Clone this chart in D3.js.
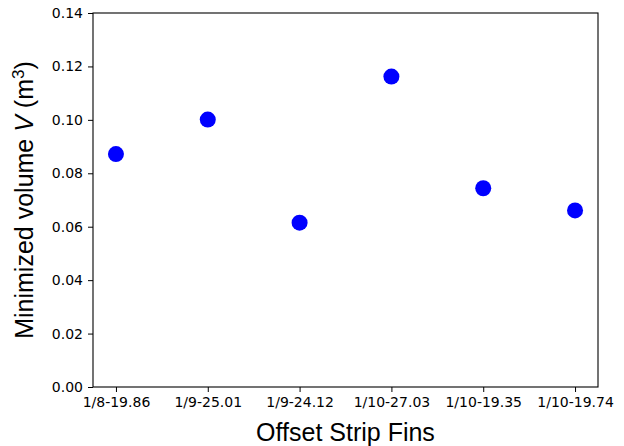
<!DOCTYPE html>
<html>
<head>
<meta charset="utf-8">
<script src="https://cdn.jsdelivr.net/npm/d3@7/dist/d3.min.js"></script>
<style>
  html, body { margin: 0; padding: 0; background: #fff; }
  svg { display: block; }
</style>
</head>
<body>
<svg id="chart" width="624" height="446"></svg>
<script>
// Fin geometries (category labels) and their minimized volumes
const categories = ["1/8-19.86", "1/9-25.01", "1/9-24.12", "1/10-27.03", "1/10-19.35", "1/10-19.74"];
const volumes = [0.0872, 0.1001, 0.0615, 0.1162, 0.0744, 0.0661];
const yTicks = [0.00, 0.02, 0.04, 0.06, 0.08, 0.10, 0.12, 0.14];

const svg = d3.select("#chart");
const plot = { left: 93, right: 598, top: 13, bottom: 387 };

// Categorical positions with a small margin on both ends
const x = d3.scaleLinear().domain([-0.25, categories.length - 0.75]).range([plot.left, plot.right]);
const y = d3.scaleLinear().domain([0, 0.14]).range([plot.bottom, plot.top]);

const tickFont = "DejaVu Sans, sans-serif";

const xAxis = d3.axisBottom(x)
  .tickValues(d3.range(categories.length))
  .tickFormat(i => categories[i])
  .tickSizeOuter(0).tickSize(5).tickPadding(5);
const yAxis = d3.axisLeft(y)
  .tickValues(yTicks)
  .tickFormat(d3.format(".2f"))
  .tickSizeOuter(0).tickSize(5).tickPadding(5);

const gx = svg.append("g").attr("transform", `translate(0,${plot.bottom})`).call(xAxis);
const gy = svg.append("g").attr("transform", `translate(${plot.left},0)`).call(yAxis);
[gx, gy].forEach(g => {
  g.select(".domain").remove();
  g.selectAll(".tick line").attr("stroke", "#000").attr("stroke-width", 1);
  g.selectAll(".tick text").attr("fill", "#000").style("font-family", tickFont).style("font-size", "14px");
});

// Frame around the plotting area
svg.append("rect")
  .attr("x", plot.left).attr("y", plot.top)
  .attr("width", plot.right - plot.left).attr("height", plot.bottom - plot.top)
  .attr("fill", "none").attr("stroke", "#000").attr("stroke-width", 1.1);

// Data points
svg.append("g").selectAll("circle")
  .data(volumes)
  .join("circle")
  .attr("cx", (d, i) => x(i))
  .attr("cy", d => y(d))
  .attr("r", 8)
  .attr("fill", "#0000ff");

// Axis titles
const labelFont = "Liberation Sans, Arial, sans-serif";
svg.append("text")
  .attr("x", (plot.left + plot.right) / 2).attr("y", 441)
  .attr("text-anchor", "middle")
  .style("font-family", labelFont).style("font-size", "25px")
  .text("Offset Strip Fins");

const yl = svg.append("text")
  .attr("transform", `translate(33,${(plot.top + plot.bottom) / 2}) rotate(-90)`)
  .attr("text-anchor", "middle")
  .style("font-family", labelFont).style("font-size", "25px");
yl.append("tspan").text("Minimized volume ");
yl.append("tspan").style("font-style", "italic").text("V");
yl.append("tspan").text(" (m");
yl.append("tspan").attr("dy", -9).style("font-size", "17px").text("3");
yl.append("tspan").attr("dy", 9).text(")");
</script>
</body>
</html>
